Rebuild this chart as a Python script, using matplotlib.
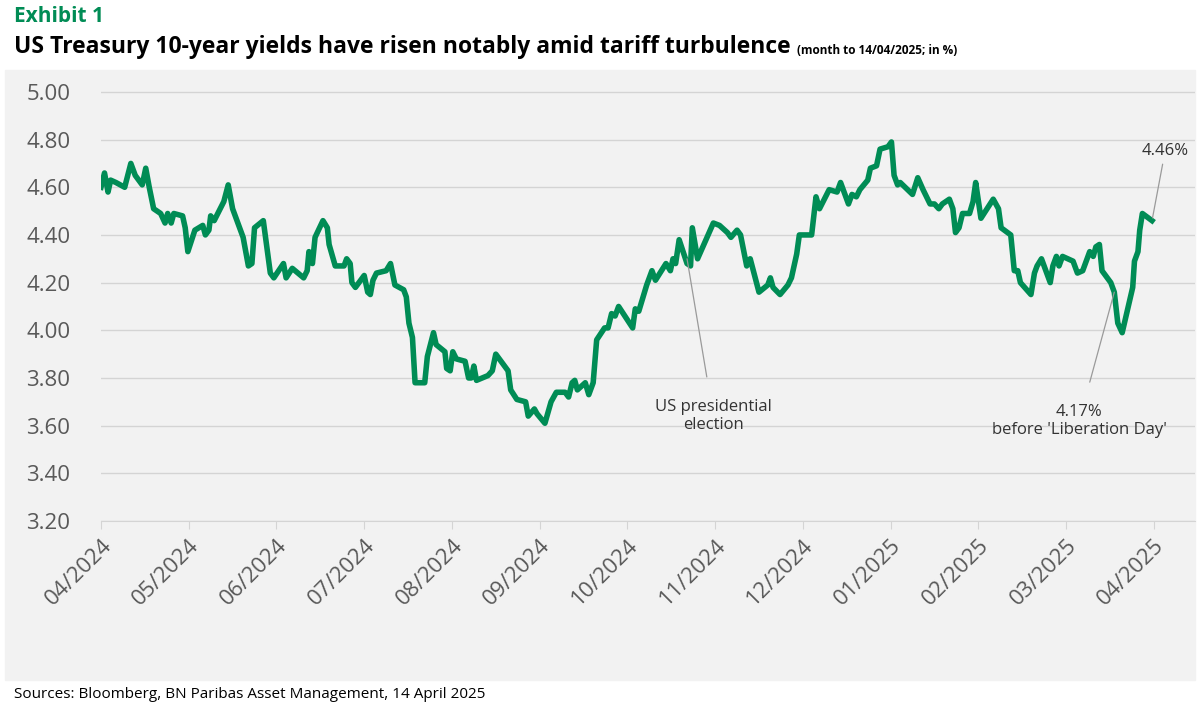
import matplotlib
matplotlib.use("Agg")
import matplotlib.pyplot as plt
from matplotlib.patches import Rectangle

plt.rcParams['font.family'] = ['Open Sans', 'DejaVu Sans']

GREEN = '#008c55'

# x = months since 04/2024, y = yield in %
months = [0.00, 0.04, 0.08, 0.11, 0.17, 0.27, 0.34, 0.39, 0.47, 0.51, 0.55, 0.60, 0.68, 0.73,
          0.76, 0.80, 0.83, 0.93, 0.96, 0.99, 1.07, 1.16, 1.19, 1.23, 1.25, 1.29, 1.40, 1.45,
          1.50, 1.62, 1.68, 1.72, 1.75, 1.85, 1.93, 1.97, 2.08, 2.11, 2.18, 2.31, 2.35, 2.37,
          2.41, 2.44, 2.53, 2.58, 2.60, 2.67, 2.77, 2.80, 2.84, 2.86, 2.90, 3.00, 3.04, 3.07,
          3.10, 3.14, 3.25, 3.30, 3.35, 3.45, 3.48, 3.51, 3.55, 3.58, 3.69, 3.72, 3.79, 3.82,
          3.92, 3.94, 3.98, 4.01, 4.05, 4.15, 4.19, 4.22, 4.25, 4.28, 4.41, 4.46, 4.50, 4.64,
          4.67, 4.74, 4.84, 4.87, 4.94, 4.97, 5.06, 5.13, 5.19, 5.29, 5.33, 5.37, 5.40, 5.43,
          5.52, 5.56, 5.61, 5.65, 5.74, 5.78, 5.82, 5.86, 5.90,
          6.06, 6.09, 6.13, 6.22, 6.28, 6.32, 6.44, 6.49, 6.52, 6.55, 6.59, 6.68, 6.72, 6.74,
          6.80, 6.98, 7.05, 7.14, 7.18, 7.25, 7.29, 7.36, 7.40, 7.50, 7.60, 7.63, 7.66, 7.74,
          7.83, 7.87, 7.93, 7.96, 8.10, 8.15, 8.19, 8.30, 8.39, 8.43, 8.52, 8.56, 8.61, 8.65,
          8.74, 8.77, 8.84, 8.88, 8.97, 9.01, 9.04, 9.08, 9.11, 9.25, 9.31, 9.37, 9.45, 9.50,
          9.55, 9.59, 9.67, 9.71, 9.74, 9.78, 9.82, 9.90, 9.94, 9.97, 10.03, 10.17, 10.23,
          10.26, 10.37, 10.41, 10.45, 10.48, 10.60, 10.64, 10.67, 10.72, 10.82, 10.85, 10.89,
          10.92, 10.96, 11.08, 11.13, 11.19, 11.27, 11.31, 11.34, 11.38, 11.41, 11.51, 11.55,
          11.59, 11.64, 11.76, 11.78, 11.82, 11.84, 11.87, 11.98]
yields = [4.60, 4.66, 4.58, 4.63, 4.62, 4.60, 4.70, 4.65, 4.61, 4.68, 4.60, 4.51, 4.49, 4.45,
          4.49, 4.45, 4.49, 4.48, 4.43, 4.33, 4.42, 4.44, 4.40, 4.42, 4.48, 4.46, 4.54, 4.61,
          4.51, 4.39, 4.27, 4.28, 4.43, 4.46, 4.24, 4.22, 4.28, 4.22, 4.26, 4.22, 4.25, 4.33,
          4.28, 4.39, 4.46, 4.43, 4.36, 4.27, 4.27, 4.30, 4.28, 4.20, 4.18, 4.23, 4.16, 4.15,
          4.21, 4.24, 4.25, 4.28, 4.19, 4.17, 4.14, 4.03, 3.97, 3.78, 3.78, 3.89, 3.99, 3.94,
          3.91, 3.84, 3.83, 3.91, 3.88, 3.87, 3.80, 3.80, 3.85, 3.79, 3.81, 3.83, 3.90, 3.83,
          3.75, 3.71, 3.70, 3.64, 3.67, 3.65, 3.61, 3.70, 3.74, 3.74, 3.72, 3.78, 3.79, 3.75,
          3.78, 3.73, 3.78, 3.96, 4.01, 4.01, 4.07, 4.06, 4.10,
          4.01, 4.09, 4.08, 4.19, 4.25, 4.21, 4.28, 4.25, 4.30, 4.28, 4.38, 4.28, 4.27, 4.43,
          4.30, 4.45, 4.44, 4.41, 4.39, 4.42, 4.40, 4.27, 4.30, 4.16, 4.19, 4.22, 4.18, 4.15,
          4.19, 4.22, 4.32, 4.40, 4.40, 4.56, 4.51, 4.59, 4.58, 4.62, 4.53, 4.57, 4.56, 4.59,
          4.63, 4.68, 4.69, 4.76, 4.77, 4.79, 4.65, 4.61, 4.62, 4.57, 4.64, 4.59, 4.53, 4.53,
          4.51, 4.53, 4.55, 4.51, 4.41, 4.43, 4.49, 4.49, 4.54, 4.62, 4.47, 4.55, 4.51,
          4.43, 4.40, 4.25, 4.25, 4.20, 4.15, 4.24, 4.27, 4.30, 4.20, 4.27, 4.31,
          4.27, 4.31, 4.29, 4.24, 4.25, 4.33, 4.31, 4.35, 4.36, 4.25, 4.20, 4.16,
          4.03, 3.99, 4.18, 4.29, 4.33, 4.42, 4.49, 4.46]

tick_labels = ['04/2024', '05/2024', '06/2024', '07/2024', '08/2024', '09/2024', '10/2024',
               '11/2024', '12/2024', '01/2025', '02/2025', '03/2025', '04/2025']
y_ticks = [3.2, 3.4, 3.6, 3.8, 4.0, 4.2, 4.4, 4.6, 4.8, 5.0]

fig = plt.figure(figsize=(12.02, 7.10), dpi=100)
fig.patches.append(Rectangle((5 / 1202, 1 - 680 / 710), 1190 / 1202, 610 / 710,
                             transform=fig.transFigure, color='#f2f2f2', zorder=-10))

ax = fig.add_axes([101 / 1202, 1 - 521 / 710, 1094 / 1202, 441 / 710])
ax.set_facecolor('none')
ax.plot(months, yields, color=GREEN, lw=4, solid_joinstyle='round', zorder=3)
ax.set_xlim(0, 12.47)
ax.set_ylim(3.2, 5.05)
ax.set_yticks(y_ticks)
ax.set_yticklabels([f'{v:.2f}' for v in y_ticks])
ax.set_xticks(range(13))
ax.set_xticklabels(tick_labels, rotation=45, ha='right', rotation_mode='anchor')
ax.grid(axis='y', color='#d4d4d4', lw=1)
ax.set_axisbelow(True)
for s in ['top', 'right', 'left']:
    ax.spines[s].set_visible(False)
ax.spines['bottom'].set_color('#d4d4d4')
ax.tick_params(axis='y', length=0, labelsize=16, colors='#595959', pad=22)
ax.tick_params(axis='x', length=6, color='#d4d4d4', labelsize=16, colors='#595959', pad=4)

ann = dict(color='#9a9a9a', lw=0.9)
ax.annotate('4.46%', xy=(11.98, 4.46), xytext=(12.13, 4.72), ha='center', va='bottom',
            fontsize=12, color='#333333', arrowprops=dict(arrowstyle='-', **ann))
ax.annotate('US presidential\nelection', xy=(6.68, 4.30), xytext=(6.98, 3.64), ha='center',
            va='center', fontsize=12, color='#333333', linespacing=1.2,
            arrowprops=dict(arrowstyle='-', shrinkB=0, shrinkA=14, **ann))
ax.annotate('4.17%\nbefore \'Liberation Day\'', xy=(11.55, 4.16), xytext=(11.15, 3.62),
            ha='center', va='center', fontsize=12, color='#333333', linespacing=1.2,
            arrowprops=dict(arrowstyle='-', shrinkB=0, shrinkA=14, **ann))

fig.text(14 / 1202, 1 - 17 / 710, 'Exhibit 1', fontsize=15, fontweight='bold',
         color=GREEN, va='center')
fig.text(14 / 1202, 1 - 47 / 710, 'US Treasury 10-year yields have risen notably amid tariff turbulence',
         fontsize=16.5, fontweight='bold', color='black', va='center')
fig.text(797 / 1202, 1 - 50 / 710, '(month to 14/04/2025; in %)', fontsize=8.5,
         fontweight='bold', color='black', va='center')
fig.text(14 / 1202, 1 - 694 / 710, 'Sources: Bloomberg, BN Paribas Asset Management, 14 April 2025',
         fontsize=11, color='black', va='center')

fig.savefig('out.png', dpi=100)
